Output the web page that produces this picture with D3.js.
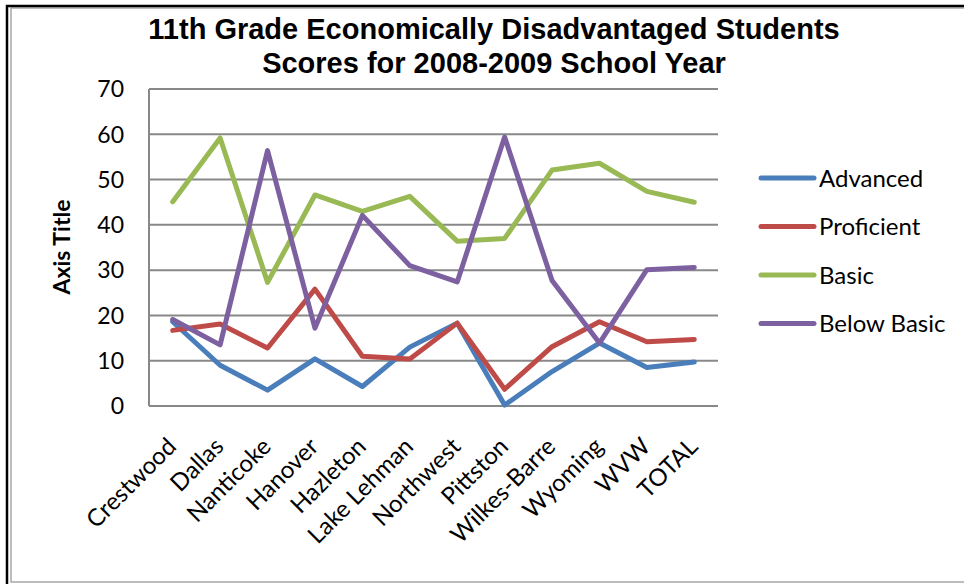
<!DOCTYPE html>
<html lang="en">
<head>
    <meta charset="UTF-8">
    <title>11th Grade Economically Disadvantaged Students</title>
    <script src="https://d3js.org/d3.v7.min.js"></script>
    <style>
        body { margin: 0; background: #fff; }
        svg { display: block; }
    </style>
</head>
<body>
    <div id="chart"></div>

    <script>
        var schools = ['Crestwood', 'Dallas', 'Nanticoke', 'Hanover', 'Hazleton', 'Lake Lehman',
            'Northwest', 'Pittston', 'Wilkes-Barre', 'Wyoming', 'WVW', 'TOTAL'];

        var advanced   = [18.6, 9.0, 3.5, 10.4, 4.3, 13.0, 18.3, 0.2, 7.6, 13.9, 8.5, 9.7];
        var proficient = [16.7, 18.1, 12.8, 25.8, 11.0, 10.4, 18.3, 3.7, 13.1, 18.6, 14.2, 14.7];
        var basic      = [45.1, 59.2, 27.3, 46.6, 43.0, 46.3, 36.4, 37.0, 52.1, 53.6, 47.4, 45.0];
        var belowBasic = [19.1, 13.5, 56.4, 17.2, 42.1, 31.0, 27.4, 59.4, 27.7, 13.9, 30.1, 30.6];

        var seriesNames = ['Advanced', 'Proficient', 'Basic', 'Below Basic'];
        var seriesColors = ['#4a7ebb', '#be4b48', '#98b954', '#7d60a0'];
        var yTicks = [0, 10, 20, 30, 40, 50, 60, 70];

        var series = [advanced, proficient, basic, belowBasic];

        var width = 964;
        var height = 584;
        var plot = { left: 149, right: 718, top: 89, bottom: 406 };

        var svg = d3.select('#chart').append('svg')
            .attr('width', width)
            .attr('height', height);

        // chart frame
        svg.append('rect')
            .attr('x', 11).attr('y', 8)
            .attr('width', 970).attr('height', 574)
            .attr('fill', 'none')
            .attr('stroke', '#a6a6a6')
            .attr('stroke-width', 1.5);
        svg.append('path')
            .attr('d', 'M7,590 V6 H970')
            .attr('fill', 'none')
            .attr('stroke', '#000')
            .attr('stroke-width', 2.5);

        var x = d3.scalePoint()
            .domain(schools)
            .range([plot.left, plot.right])
            .padding(0.5);

        var y = d3.scaleLinear()
            .domain([0, 70])
            .range([plot.bottom, plot.top]);

        // gridlines
        svg.append('g')
            .selectAll('line')
            .data(yTicks)
            .enter().append('line')
                .attr('x1', plot.left)
                .attr('x2', plot.right)
                .attr('y1', d => y(d))
                .attr('y2', d => y(d))
                .attr('stroke', '#888')
                .attr('stroke-width', 2);

        // y axis line
        svg.append('line')
            .attr('x1', plot.left).attr('x2', plot.left)
            .attr('y1', y(0)).attr('y2', y(70))
            .attr('stroke', '#888')
            .attr('stroke-width', 2);

        // y tick labels
        svg.append('g')
            .selectAll('text')
            .data(yTicks)
            .enter().append('text')
                .attr('x', 124)
                .attr('y', d => y(d))
                .attr('dy', '0.36em')
                .attr('text-anchor', 'end')
                .style('font-family', 'Lato, sans-serif')
                .style('font-size', '23px')
                .text(d => d);

        // x labels
        svg.append('g')
            .selectAll('text')
            .data(schools)
            .enter().append('text')
                .attr('transform', d => 'translate(' + (x(d) + 5) + ',' + 448 + ') rotate(-45)')
                .attr('text-anchor', 'end')
                .style('font-family', 'Lato, sans-serif')
                .style('font-size', '24px')
                .text(d => d);

        // axis title
        svg.append('text')
            .attr('transform', 'translate(70,247) rotate(-90)')
            .attr('text-anchor', 'middle')
            .style('font-family', 'Lato, sans-serif')
            .style('font-weight', 'bold')
            .style('font-size', '23px')
            .text('Axis Title');

        // chart title
        var title = svg.append('text')
            .attr('text-anchor', 'middle')
            .style('font-family', '"Liberation Sans", Arial, sans-serif')
            .style('font-weight', 'bold')
            .style('font-size', '29px');
        title.append('tspan').attr('x', 494).attr('y', 39).text('11th Grade Economically Disadvantaged Students');
        title.append('tspan').attr('x', 494).attr('y', 73).text('Scores for 2008-2009 School Year');

        // series lines
        var line = d3.line()
            .x((d, i) => x(schools[i]))
            .y(d => y(d));

        svg.append('g')
            .selectAll('path')
            .data(series)
            .enter().append('path')
                .attr('d', d => line(d))
                .attr('fill', 'none')
                .attr('stroke', (d, i) => seriesColors[i])
                .attr('stroke-width', 5)
                .attr('stroke-linejoin', 'round')
                .attr('stroke-linecap', 'round');

        // legend
        var legend = svg.append('g')
            .selectAll('g')
            .data(seriesNames)
            .enter().append('g')
                .attr('transform', (d, i) => 'translate(0,' + (178 + i * 48.5) + ')');

        legend.append('line')
            .attr('x1', 761).attr('x2', 814)
            .attr('stroke', (d, i) => seriesColors[i])
            .attr('stroke-width', 5)
            .attr('stroke-linecap', 'round');

        legend.append('text')
            .attr('x', 819)
            .attr('dy', '0.36em')
            .style('font-family', 'Lato, sans-serif')
            .style('font-size', '24px')
            .text(d => d);
    </script>
</body>
</html>
